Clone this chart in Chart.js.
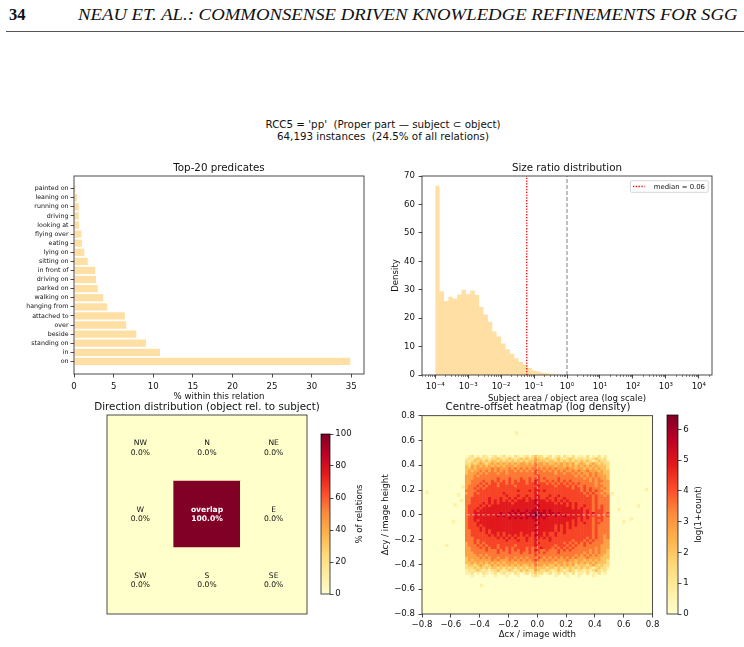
<!DOCTYPE html>
<html>
<head>
<meta charset="utf-8">
<script src="https://cdn.jsdelivr.net/npm/chart.js@4.4.1/dist/chart.umd.min.js"></script>
<style>
  html, body { margin: 0; padding: 0; background: #fff; }
  body { width: 744px; height: 647px; position: relative; overflow: hidden; font-family: "DejaVu Sans", sans-serif; color: #111; }
  canvas { position: absolute; }
  .t { position: absolute; white-space: pre; line-height: 1; }
  #pg-num { position: absolute; left: 9px; top: 7px; font: bold 16.5px/1 "Liberation Serif", serif; }
  #pg-title { position: absolute; left: 78px; top: 7px; font: italic 16.5px/1 "Liberation Serif", serif; white-space: nowrap; transform-origin: left center; }
  #pg-rule { position: absolute; left: 6px; top: 31px; width: 738px; height: 1px; background: #555; }
</style>
</head>
<body>
<div id="pg-num">34</div>
<div id="pg-title">NEAU ET. AL.: COMMONSENSE DRIVEN KNOWLEDGE REFINEMENTS FOR SGG</div>
<div id="pg-rule"></div>

<canvas id="c-bars"></canvas>
<canvas id="c-hist"></canvas>
<canvas id="c-dir"></canvas>
<canvas id="c-dir-bar"></canvas>
<canvas id="c-off"></canvas>
<canvas id="c-off-bar"></canvas>

<script>
// ---- data ----

// top-20 predicates, % within the relation (ranked, 'on' first)
const predicates = ['on', 'in', 'standing on', 'beside', 'over', 'attached to', 'hanging from',
  'walking on', 'parked on', 'driving on', 'in front of', 'sitting on', 'lying on', 'eating',
  'flying over', 'looking at', 'driving', 'running on', 'leaning on', 'painted on'];
const predicateShare = [34.87, 10.86, 9.09, 7.86, 6.59, 6.42, 4.18, 3.68, 3.0, 2.79, 2.66,
  1.73, 1.3, 1.0, 0.93, 0.63, 0.6, 0.6, 0.38, 0.2];

// size ratio histogram: log bins starting at 1e-4, 60 bins per 8 decades
const binLogStart = -4;
const binLogStep = 8 / 60;
const ratioDensity = [66.6, 29.5, 26.0, 27.5, 26.8, 28.3, 30.0, 28.5, 29.7, 28.1, 23.9, 21.3,
  18.7, 15.3, 13.5, 11.1, 9.1, 7.5, 5.9, 4.6, 3.5, 2.5, 1.6, 1.2, 0.8, 0.6, 0.35, 0.2, 0.1, 0.05];
const ratioMedian = 0.06;
const logMajors = [-4, -3, -2, -1, 0, 1, 2, 3, 4];

// direction grid (row-major, top row first)
const dirLabels = ['NW', 'N', 'NE', 'W', 'overlap', 'E', 'SW', 'S', 'SE'];
const dirPct = [0, 0, 0, 0, 100, 0, 0, 0, 0];

// centre-offset heatmap, log(1+count) in steps of 0.7 per digit
// cells 0.02 wide, first column centred at x=-0.49, first row at y=0.47
const offCell = 0.02;
const offX0 = -0.49;
const offY0 = 0.47;
const offLevelStep = 0.7;
const offMax = 6.47;
const offRows = [
  '01201021012012010210120232201201202102011020102010',
  '12123212122321232123232243223212321232122121232120',
  '21232323233232323232323343332332323232323232123221',
  '22323432343434343434434354434334343434234323432322',
  '32434343434343444344444454444443443434343434343332',
  '33434444454544454545454555454545444544344343434332',
  '34344545454545455454545465545454545445454454443433',
  '34445454555455455555555565555554554554545445454433',
  '44454555555555555555555556555555555555454545454443',
  '44455555555655565556556566565555655555555454545443',
  '44555565565656565656656576556565656565555554545544',
  '44555656566566565666656676665656565656565555545444',
  '45556565666566666566666667666665666565655655545544',
  '45565656666666666666666676666666666665665656555454',
  '55556666666666666676667677676666666666665656565544',
  '45565666666667666666666676666666666666666565655454',
  '55566666666666766676676677666766766666666656565545',
  '55666666766676676766767677667667667666666666565555',
  '55666666767676767677767787776767676766666666565555',
  '55666676767677776777777787777776767676766666565555',
  '56666767677777777777777778777777777676766766565655',
  '56667677777777777777777787777777777776767666565655',
  '56676777777777778787787888787877777777777676566655',
  '56677777777787787878878899887887877777777676766656',
  '56677777777878778787788898878778778777777676665656',
  '56677777777777787878787888787777777777767676566655',
  '56676777777777777777777787777777777776767666565655',
  '56667777777777777777777778777777777676766766566555',
  '56667677777777777777777787777776767676766666565555',
  '56666767777777777777777777777776767676666666565555',
  '55666767677777777777777787777776767666666666565555',
  '55666667677676777776777677767667667666666666565555',
  '55666666767676767676767687767667666666666666565545',
  '55566666666767676766676677676766666666666656565545',
  '55565666666666766676676676666766666665666565655544',
  '45565656666666666666666677666666665656565656555544',
  '45556565666566666566666676666665666565655655555444',
  '44555656566566565666656566766656565656555555545444',
  '44555556555656565656656576556555656565555554545443',
  '44455555555655565556556566565555655555555454545443',
  '44445454555555555555555565555555555555454545454433',
  '34444545455455455454545556545454545454544454444333',
  '34344444454544454545454565454545444544344343434332',
  '33434343434343444344444454444443443434343434343332',
  '23323432343434343434334354434334343434233323432322',
  '22232323233232323232323343332332323232323232123221',
  '12123212122321232123232243223212321232122121232120',
  '11201021012012010210120232201201202102011020102010',
  '00100010001000100010000121000001000100010000100000'
];
// isolated single-count cells outside the main block
const offOutliers = [[-0.766, 0.18], [-0.144, 0.661], [-0.387, -0.57], [-0.628, -0.246],
  [-0.546, 0.16], [-0.525, 0.117], [-0.514, 0.225], [-0.571, 0.08], [-0.582, -0.056],
  [0.566, 0.043], [0.52, 0.17], [0.60, -0.056], [0.653, -0.032], [0.703, 0.072], [0.758, 0.203]];

// ---- styling ----
const BAR_FILL = 'rgba(255, 165, 0, 0.36)';
const SPINE = 'rgba(0, 0, 0, 0.78)';
const INK = '#111';
const TICK = 8.6;
const YLORRD = ['#ffffcc', '#ffeda0', '#fed976', '#feb24c', '#fd8d3c', '#fc4e2a', '#e31a1c', '#bd0026', '#800026'];

Chart.defaults.font.family = '"DejaVu Sans", sans-serif';
Chart.defaults.color = INK;

function hexRgb(h) {
  return [1, 3, 5].map(i => parseInt(h.slice(i, i + 2), 16));
}

function cmap(t) {
  t = Math.min(1, Math.max(0, t));
  const p = t * (YLORRD.length - 1);
  const i = Math.min(Math.floor(p), YLORRD.length - 2);
  const f = p - i;
  const a = hexRgb(YLORRD[i]), b = hexRgb(YLORRD[i + 1]);
  return 'rgb(' + a.map((v, k) => Math.round(v + (b[k] - v) * f)).join(',') + ')';
}

function place(id, left, top, w, h) {
  const c = document.getElementById(id);
  c.width = w; c.height = h;
  c.style.left = left + 'px'; c.style.top = top + 'px';
  c.style.width = w + 'px'; c.style.height = h + 'px';
  return c;
}

function label(text, cx, cy, size) {
  const el = document.createElement('div');
  el.className = 't';
  el.textContent = text;
  el.style.fontSize = size + 'px';
  el.style.left = cx + 'px';
  el.style.top = cy + 'px';
  el.style.transform = 'translate(-50%, -50%)';
  document.body.appendChild(el);
}

function opts(extra, pluginOpts) {
  return Object.assign({
    responsive: false,
    animation: false,
    events: [],
    plugins: Object.assign({ legend: { display: false }, tooltip: { enabled: false } }, pluginOpts)
  }, extra);
}

const tickGrid = { drawOnChartArea: false, drawTicks: true, tickLength: 3.5, tickColor: SPINE, tickWidth: 0.9, offset: false };

// axes frame (all four spines)
const framePlugin = {
  id: 'frame',
  afterDraw(chart) {
    const { ctx, chartArea: a } = chart;
    ctx.save();
    ctx.strokeStyle = SPINE;
    ctx.lineWidth = 0.9;
    ctx.strokeRect(a.left, a.top, a.right - a.left, a.bottom - a.top);
    ctx.restore();
  }
};

// ---- page header and titles ----
const title = document.getElementById('pg-title');
title.style.transform = 'scaleX(' + (660 / title.offsetWidth) + ')';

label("RCC5 = 'pp'  (Proper part \u2014 subject \u2282 object)", 383, 124.3, 10.3);
label('64,193 instances  (24.5% of all relations)', 383, 135.6, 10.3);
label('Top-20 predicates', 219, 166.7, 10.3);
label('Size ratio distribution', 567, 166.7, 10.3);
label('Direction distribution (object rel. to subject)', 207, 405.6, 10.3);
label('Centre-offset heatmap (log density)', 538, 405.6, 10.3);

// ---- top-20 predicates ----
new Chart(place('c-bars', 0, 150, 380, 252), {
  type: 'bar',
  data: {
    datasets: [{
      data: predicates.map((p, i) => ({ x: predicateShare[i], y: i })),
      backgroundColor: BAR_FILL,
      borderWidth: 0,
      categoryPercentage: 0.8,
      barPercentage: 1
    }]
  },
  options: opts({
    indexAxis: 'y',
    layout: { padding: { top: 26, right: 16, left: 0, bottom: 0 } },
    scales: {
      x: {
        type: 'linear', min: 0, max: 36.6,
        ticks: { stepSize: 5, includeBounds: false, font: { size: TICK }, padding: 4, maxRotation: 0, autoSkip: false },
        grid: tickGrid, border: { display: false },
        title: { display: true, text: '% within this relation', font: { size: TICK }, padding: 0 },
        afterFit: s => { s.height = 28; }
      },
      y: {
        type: 'linear', min: -1.39, max: 20.39, offset: false,
        afterBuildTicks: s => { s.ticks = predicates.map((p, i) => ({ value: i })); },
        ticks: { callback: v => predicates[v], autoSkip: false, font: { size: 6.3 }, padding: 2 },
        grid: tickGrid, border: { display: false },
        afterFit: s => { s.width = 74; }
      }
    }
  }),
  plugins: [framePlugin]
});

// ---- size ratio distribution ----
const supMap = { '-': '\u207b', '0': '\u2070', '1': '\u00b9', '2': '\u00b2', '3': '\u00b3', '4': '\u2074' };
const histOutline = [];
ratioDensity.forEach((h, i) => {
  histOutline.push({ x: 10 ** (binLogStart + i * binLogStep), y: h });
  histOutline.push({ x: 10 ** (binLogStart + (i + 1) * binLogStep), y: h });
});

const minorLogTicks = {
  id: 'minorLogTicks',
  afterDraw(chart) {
    const s = chart.scales.x, ctx = chart.ctx;
    ctx.save();
    ctx.strokeStyle = SPINE;
    ctx.lineWidth = 0.6;
    ctx.beginPath();
    for (let e = -5; e <= 4; e++) {
      for (let m = 2; m <= 9; m++) {
        const v = m * 10 ** e;
        if (v < s.min || v > s.max) continue;
        const px = Math.round(s.getPixelForValue(v)) + 0.5;
        ctx.moveTo(px, s.top);
        ctx.lineTo(px, s.top + 2);
      }
    }
    ctx.stroke();
    ctx.restore();
  }
};

const medianLegend = {
  id: 'medianLegend',
  afterDatasetsDraw(chart) {
    const { ctx, chartArea: a } = chart;
    const ds = chart.data.datasets.find(d => d.inLegend);
    ctx.save();
    ctx.font = '6.9px "DejaVu Sans"';
    const tw = ctx.measureText(ds.label).width;
    const h = 11.6, w = 2.6 + 11.7 + 9 + tw + 3.3;
    const x0 = a.right - 3.7 - w, y0 = a.top + 4.7;
    ctx.fillStyle = 'rgba(255,255,255,0.85)';
    ctx.strokeStyle = '#cccccc';
    ctx.lineWidth = 0.8;
    ctx.beginPath();
    ctx.roundRect(x0, y0, w, h, 1.5);
    ctx.fill();
    ctx.stroke();
    ctx.setLineDash(ds.borderDash);
    ctx.strokeStyle = ds.borderColor;
    ctx.lineWidth = ds.borderWidth;
    ctx.beginPath();
    ctx.moveTo(x0 + 2.6, y0 + h / 2);
    ctx.lineTo(x0 + 14.3, y0 + h / 2);
    ctx.stroke();
    ctx.setLineDash([]);
    ctx.fillStyle = INK;
    ctx.textBaseline = 'middle';
    ctx.fillText(ds.label, x0 + 23.3, y0 + h / 2 + 0.3);
    ctx.restore();
  }
};

new Chart(place('c-hist', 391, 150, 333, 254), {
  type: 'line',
  data: {
    datasets: [{
      label: 'median = ' + ratioMedian.toFixed(2),
      inLegend: true,
      data: [{ x: ratioMedian, y: 0 }, { x: ratioMedian, y: 70 }],
      borderColor: 'red', borderWidth: 1.3, borderDash: [1.3, 1.5],
      pointRadius: 0, fill: false, order: 0
    }, {
      data: [{ x: 1, y: 0 }, { x: 1, y: 70 }],
      borderColor: 'gray', borderWidth: 1, borderDash: [4, 2],
      pointRadius: 0, fill: false, order: 0
    }, {
      data: histOutline,
      borderColor: 'rgba(0,0,0,0)', borderWidth: 0,
      backgroundColor: BAR_FILL, fill: 'origin',
      pointRadius: 0, tension: 0, order: 1
    }]
  },
  options: opts({
    layout: { padding: { top: 26, right: 12, left: 0, bottom: 0 } },
    scales: {
      x: {
        type: 'logarithmic', min: 10 ** -4.4, max: 10 ** 4.4,
        afterBuildTicks: s => { s.ticks = logMajors.map(e => ({ value: 10 ** e })); },
        ticks: {
          callback: v => '10' + String(Math.round(Math.log10(v))).split('').map(c => supMap[c]).join(''),
          font: { size: TICK }, padding: 3.4, maxRotation: 0, autoSkip: false
        },
        grid: tickGrid, border: { display: false },
        title: { display: true, text: 'Subject area / object area (log scale)', font: { size: TICK }, padding: 0 },
        afterFit: s => { s.height = 29; }
      },
      y: {
        type: 'linear', min: 0, max: 70,
        ticks: { stepSize: 10, font: { size: TICK }, padding: 3.5 },
        grid: tickGrid, border: { display: false },
        title: { display: true, text: 'Density', font: { size: TICK }, padding: 0 },
        afterFit: s => { s.width = 31; }
      }
    }
  }),
  plugins: [framePlugin, minorLogTicks, medianLegend]
});

// ---- direction distribution ----
const cellText = {
  id: 'cellText',
  afterDatasetsDraw(chart) {
    const { ctx, scales: { x, y } } = chart;
    ctx.save();
    ctx.textAlign = 'center';
    ctx.textBaseline = 'middle';
    dirLabels.forEach((lab, k) => {
      const px = x.getPixelForValue(k % 3);
      const py = y.getPixelForValue(2 - Math.floor(k / 3));
      const hot = dirPct[k] > 50;
      ctx.fillStyle = hot ? '#fff' : INK;
      ctx.font = (hot ? 'bold ' : '') + '7.6px "DejaVu Sans"';
      ctx.fillText(lab, px, py - 4.7);
      ctx.fillText(dirPct[k].toFixed(1) + '%', px, py + 4.4);
    });
    ctx.restore();
  }
};

new Chart(place('c-dir', 105, 413, 204, 203), {
  type: 'scatter',
  data: {
    datasets: [{
      data: dirPct.map((p, k) => ({ x: k % 3, y: 2 - Math.floor(k / 3), p: p })),
      pointStyle: 'rect',
      pointRadius: ctx => {
        const s = ctx.chart.scales.x;
        return (s.getPixelForValue(1) - s.getPixelForValue(0) + 0.6) / Math.SQRT2;
      },
      backgroundColor: ctx => cmap(ctx.raw.p / 100),
      borderWidth: 0
    }]
  },
  options: opts({
    layout: { padding: 2 },
    scales: {
      x: { type: 'linear', min: -0.5, max: 2.5, display: false },
      y: { type: 'linear', min: -0.5, max: 2.5, display: false }
    }
  }),
  plugins: [cellText, framePlugin]
});

function gradientFill(ctx) {
  const a = ctx.chart.chartArea;
  if (!a) return YLORRD[0];
  const g = ctx.chart.ctx.createLinearGradient(0, a.bottom, 0, a.top);
  YLORRD.forEach((c, i) => g.addColorStop(i / (YLORRD.length - 1), c));
  return g;
}

// rotated colorbar caption, reading bottom to top
const sideLabel = {
  id: 'sideLabel',
  afterDraw(chart, args, o) {
    const { ctx, chartArea: a } = chart;
    ctx.save();
    ctx.translate(a.left + o.dx, (a.top + a.bottom) / 2);
    ctx.rotate(-Math.PI / 2);
    ctx.font = TICK + 'px "DejaVu Sans"';
    ctx.fillStyle = INK;
    ctx.textAlign = 'center';
    ctx.textBaseline = 'middle';
    ctx.fillText(o.text, 0, 0);
    ctx.restore();
  }
};

function colorbar(id, left, top, w, h, max, step, barW, axisW, caption, dx) {
  return new Chart(place(id, left, top, w, h), {
    type: 'bar',
    data: {
      labels: [''],
      datasets: [{ data: [max], backgroundColor: gradientFill, borderWidth: 0, barPercentage: 1, categoryPercentage: 1 }]
    },
    options: opts({
      layout: { padding: { top: 8, bottom: 8, left: 2, right: w - 2 - barW - axisW } },
      scales: {
        x: { display: false },
        y: {
          position: 'right', min: 0, max: max,
          ticks: { stepSize: step, includeBounds: false, font: { size: TICK }, padding: 1.8 },
          grid: tickGrid, border: { display: false },
          afterFit: s => { s.width = axisW; }
        }
      }
    }, { sideLabel: { text: caption, dx: dx } }),
    plugins: [framePlugin, sideLabel]
  });
}

// bar area 321..330 x 434..594
colorbar('c-dir-bar', 319, 426, 60, 176, 100, 20, 9, 28, '% of relations', 38.5);

// ---- centre-offset heatmap ----
const offCells = [];
offRows.forEach((row, r) => {
  row.split('').forEach((d, c) => {
    const lv = +d;
    if (lv > 0) offCells.push({ x: offX0 + c * offCell, y: offY0 - r * offCell, v: lv * offLevelStep });
  });
});
const offSingles = offOutliers.map(p => ({ x: p[0], y: p[1], v: Math.log(2) }));

const cellRadius = ctx => {
  const s = ctx.chart.scales.x;
  return (s.getPixelForValue(offCell) - s.getPixelForValue(0) + 0.45) / Math.SQRT2;
};

const heatBackground = {
  id: 'heatBackground',
  beforeDatasetsDraw(chart) {
    const { ctx, chartArea: a } = chart;
    ctx.save();
    ctx.fillStyle = cmap(0);
    ctx.fillRect(a.left, a.top, a.right - a.left, a.bottom - a.top);
    ctx.restore();
  }
};

const signed = v => (v < 0 ? '\u2212' : '') + Math.abs(v).toFixed(1);

new Chart(place('c-off', 381, 407, 281, 233), {
  type: 'scatter',
  data: {
    datasets: [{
      data: [{ x: -0.8, y: 0 }, { x: 0.8, y: 0 }],
      showLine: true, borderColor: 'rgba(255,255,255,0.7)', borderWidth: 0.8, borderDash: [3, 2],
      pointRadius: 0, order: 0
    }, {
      data: [{ x: 0, y: -0.8 }, { x: 0, y: 0.8 }],
      showLine: true, borderColor: 'rgba(255,255,255,0.7)', borderWidth: 0.8, borderDash: [3, 2],
      pointRadius: 0, order: 0
    }, {
      data: offCells,
      pointStyle: 'rect', pointRadius: cellRadius, borderWidth: 0,
      backgroundColor: ctx => cmap(ctx.raw.v / offMax), order: 1
    }, {
      data: offSingles,
      pointStyle: 'rect', pointRadius: cellRadius, borderWidth: 0,
      backgroundColor: ctx => cmap(ctx.raw.v / offMax), order: 1
    }]
  },
  options: opts({
    layout: { padding: { top: 8, right: 8, left: 0, bottom: 0 } },
    scales: {
      x: {
        type: 'linear', min: -0.8, max: 0.8,
        ticks: { stepSize: 0.2, callback: signed, font: { size: TICK }, padding: 2.6, maxRotation: 0, autoSkip: false },
        grid: tickGrid, border: { display: false },
        title: { display: true, text: '\u0394cx / image width', font: { size: TICK }, padding: 0 },
        afterFit: s => { s.height = 26; }
      },
      y: {
        type: 'linear', min: -0.8, max: 0.8,
        ticks: { stepSize: 0.2, callback: signed, font: { size: TICK }, padding: 3.5, autoSkip: false },
        grid: tickGrid, border: { display: false },
        title: { display: true, text: '\u0394cy / image height', font: { size: TICK }, padding: 0 },
        afterFit: s => { s.width = 41; }
      }
    }
  }),
  plugins: [heatBackground, framePlugin]
});

// bar area 667..678 x 415..614
colorbar('c-off-bar', 665, 407, 50, 215, offMax, 1, 11, 24, 'log(1+count)', 32);
</script>
</body>
</html>
